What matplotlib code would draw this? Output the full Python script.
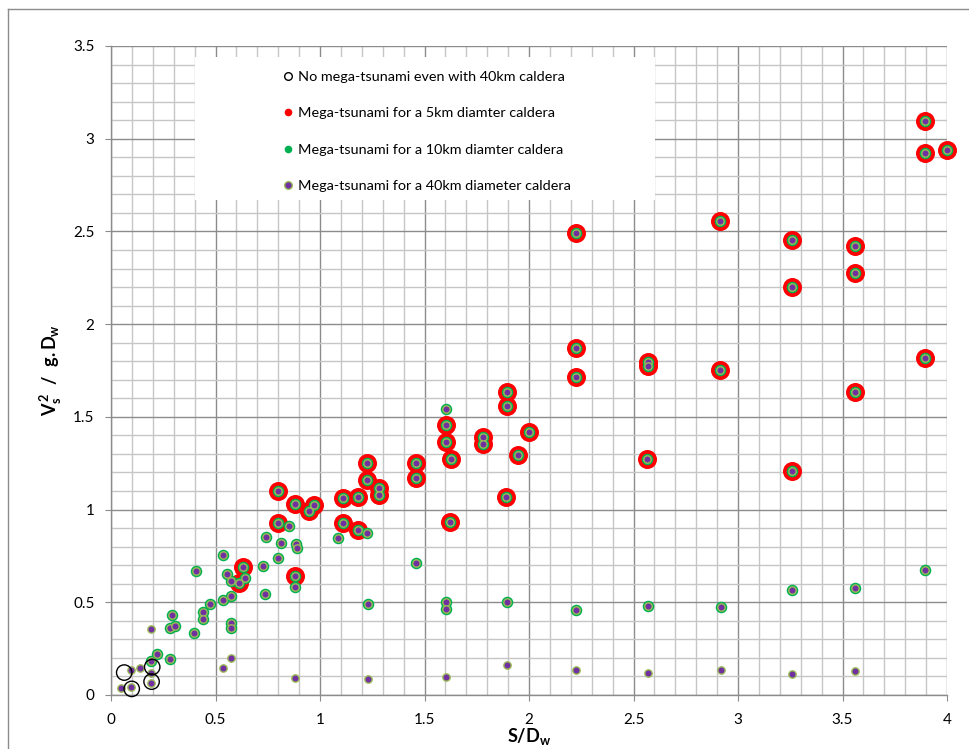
import matplotlib
matplotlib.use('Agg')
import matplotlib.pyplot as plt
from matplotlib.lines import Line2D
from matplotlib.patches import Rectangle
from matplotlib.ticker import MultipleLocator

# S/Dw (x) and Vs^2 / g.Dw (y)
# mega-tsunami already with a 5km caldera (so also with 10km and 40km)
sd_5km = [3.897, 3.897, 3.998, 2.224, 2.916, 3.256, 3.558, 3.558, 3.256, 2.224,
          2.224, 2.567, 2.567, 2.916, 3.897, 3.558, 3.256, 1.894, 1.894, 2.000,
          1.946, 2.565, 1.890, 1.603, 1.603, 1.626, 1.779, 1.779, 1.624, 1.458,
          1.458, 1.225, 1.225, 1.284, 1.284, 1.183, 1.112, 0.800, 0.880, 0.973,
          0.946, 0.800, 1.112, 1.183, 0.880, 0.630, 0.614]
v_5km = [3.094, 2.925, 2.941, 2.490, 2.554, 2.454, 2.421, 2.274, 2.199, 1.870,
         1.716, 1.795, 1.775, 1.752, 1.815, 1.635, 1.207, 1.635, 1.558, 1.416,
         1.294, 1.270, 1.067, 1.457, 1.365, 1.271, 1.392, 1.351, 0.933, 1.252,
         1.171, 1.250, 1.161, 1.117, 1.080, 1.067, 1.062, 1.102, 1.028, 1.026,
         0.990, 0.925, 0.926, 0.888, 0.640, 0.690, 0.604]

# extra points that need a 10km caldera
sd_10km = [1.603, 1.227, 1.085, 0.853, 0.740, 0.812, 0.884, 0.888, 0.800, 0.726,
           0.880, 0.738, 0.534, 0.406, 0.553, 0.574, 0.643, 0.536, 0.574, 0.473,
           0.440, 0.438, 0.292, 0.283, 0.307, 0.398, 0.574, 0.574, 0.221, 0.191,
           0.283, 1.458, 1.228, 1.603, 1.603, 1.895, 2.224, 2.567, 2.920, 3.256,
           3.558, 3.895]
v_10km = [1.540, 0.873, 0.848, 0.909, 0.853, 0.819, 0.812, 0.794, 0.740, 0.695,
          0.581, 0.544, 0.753, 0.668, 0.650, 0.616, 0.629, 0.512, 0.534, 0.489,
          0.446, 0.410, 0.430, 0.362, 0.374, 0.336, 0.390, 0.362, 0.221, 0.185,
          0.195, 0.710, 0.489, 0.502, 0.462, 0.500, 0.460, 0.482, 0.473, 0.565,
          0.577, 0.676]

# extra points that need a 40km caldera
sd_40km = [0.190, 0.574, 0.534, 0.882, 0.140, 0.095, 0.191, 0.191, 0.046, 0.095,
           1.228, 1.603, 1.895, 2.224, 2.567, 2.920, 3.256, 3.558]
v_40km = [0.354, 0.200, 0.146, 0.092, 0.148, 0.135, 0.119, 0.065, 0.037, 0.045,
          0.085, 0.098, 0.162, 0.134, 0.119, 0.137, 0.114, 0.128]

# no mega-tsunami even with 40km caldera
sd_none = [0.063, 0.099, 0.197, 0.194]
v_none = [0.121, 0.033, 0.151, 0.072]

legend_labels = [
    'No mega-tsunami even with 40km caldera',
    'Mega-tsunami for a 5km diamter caldera',
    'Mega-tsunami for a 10km diamter caldera',
    'Mega-tsunami for a 40km diameter caldera',
]
x_ticks = [0, 0.5, 1, 1.5, 2, 2.5, 3, 3.5, 4]
x_tick_labels = ['0', '0.5', '1', '1.5', '2', '2.5', '3', '3.5', '4']
y_ticks = [0, 0.5, 1, 1.5, 2, 2.5, 3, 3.5]
y_tick_labels = ['0', '0.5', '1', '1.5', '2', '2.5', '3', '3.5']

RED = '#FF0000'
GREEN = '#00B050'
PURPLE = '#7030A0'
OLIVE = '#9BBB59'

plt.rcParams['font.family'] = ['Lato', 'DejaVu Sans']
plt.rcParams['mathtext.fontset'] = 'custom'
plt.rcParams['mathtext.rm'] = 'Lato'
plt.rcParams['mathtext.bf'] = 'Lato:bold'
plt.rcParams['mathtext.it'] = 'Lato:italic'

fig = plt.figure(figsize=(9.69, 7.49), dpi=100)
ax = fig.add_axes([0.1146, 0.0721, 0.8627, 0.8665])

# series build up: 10km includes the 5km ones, 40km includes all
sd_10_all = sd_5km + sd_10km
v_10_all = v_5km + v_10km
sd_40_all = sd_10_all + sd_40km
v_40_all = v_10_all + v_40km

ax.scatter(sd_5km, v_5km, s=187, color=RED, linewidths=0, zorder=3, clip_on=False)
ax.scatter(sd_10_all, v_10_all, s=69, color=GREEN, linewidths=0, zorder=4, clip_on=False)
ax.scatter(sd_40_all, v_40_all, s=28, color=PURPLE, edgecolors=OLIVE, linewidths=1.0,
           zorder=5, clip_on=False)
ax.scatter(sd_none, v_none, s=123, facecolors='none', edgecolors='black', linewidths=1.0,
           zorder=6, clip_on=False)

ax.set_xlim(0, 4)
ax.set_ylim(0, 3.5)
ax.set_xticks(x_ticks)
ax.set_xticklabels(x_tick_labels)
ax.set_yticks(y_ticks)
ax.set_yticklabels(y_tick_labels)
ax.xaxis.set_minor_locator(MultipleLocator(0.1))
ax.yaxis.set_minor_locator(MultipleLocator(0.1))
ax.set_axisbelow(True)
ax.grid(which='minor', color='#c6c6c6', linewidth=1.0)
ax.grid(which='major', color='#8c8c8c', linewidth=1.0)
ax.tick_params(which='minor', length=0)
ax.tick_params(which='major', length=4, width=0.8, color='#8c8c8c', labelsize=11)
ax.tick_params(axis='x', pad=9)
ax.tick_params(axis='y', pad=8)

for side in ['top', 'right']:
    ax.spines[side].set_visible(False)
for side in ['left', 'bottom']:
    ax.spines[side].set_color('#8c8c8c')
    ax.spines[side].set_linewidth(1.0)

ax.set_xlabel(r'$\mathbf{S/D_w}$', fontsize=13)
ax.xaxis.set_label_coords(0.5, -0.048)
ax.set_ylabel(r'$\mathbf{V_s^{\,2}\ \ /\ \ g.D_w}$', fontsize=13)
ax.yaxis.set_label_coords(-0.056, 0.5)

# white legend box without border
ax.add_patch(Rectangle((0.1005, 0.7627), 0.5502, 0.2203, transform=ax.transAxes,
                       facecolor='white', edgecolor='none', zorder=1.5))
handles = [
    Line2D([], [], linestyle='none', marker='o', ms=5.5, mfc='none', mec='black', mew=1.0),
    Line2D([], [], linestyle='none', marker='o', ms=5.5, mfc=RED, mec=RED, mew=0),
    Line2D([], [], linestyle='none', marker='o', ms=5.5, mfc=GREEN, mec=GREEN, mew=0),
    Line2D([], [], linestyle='none', marker='o', ms=5.5, mfc=PURPLE, mec=OLIVE, mew=1.0),
]
leg = ax.legend(handles, legend_labels, loc='upper left', bbox_to_anchor=(0.2045, 0.9610),
                frameon=False, fontsize=10.4, handlelength=0.8, handletextpad=0.3,
                borderpad=0, borderaxespad=0, labelspacing=1.66)
leg.set_zorder(7)

# chart area border (left and top visible in the picture)
fig.add_artist(Line2D([8 / 969, 8 / 969], [0, 1 - 9 / 749], transform=fig.transFigure,
                      color='#8c8c8c', linewidth=1.0))
fig.add_artist(Line2D([8 / 969, 1], [1 - 9 / 749, 1 - 9 / 749], transform=fig.transFigure,
                      color='#8c8c8c', linewidth=1.0))

fig.savefig('out.png', dpi=100)
